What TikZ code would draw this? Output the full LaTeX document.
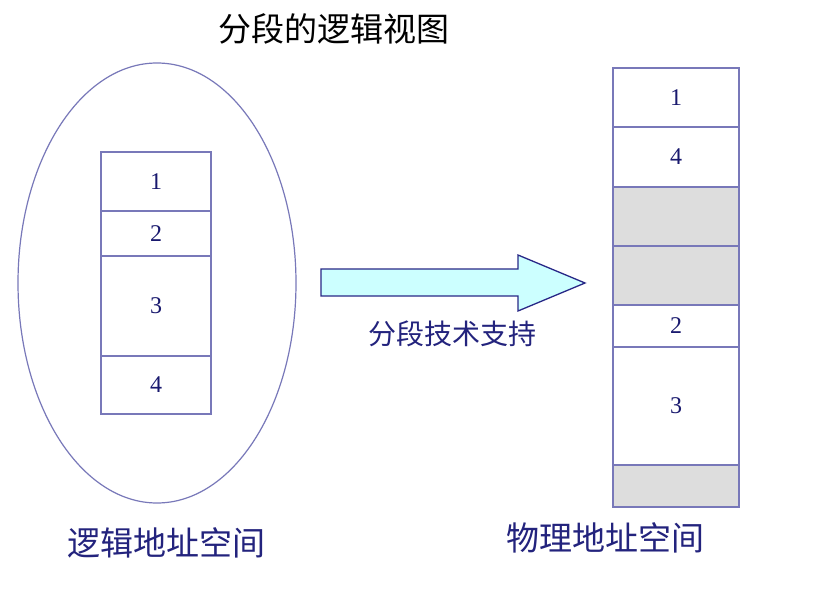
\documentclass[tikz,border=0pt]{standalone}
\usepackage{fontspec}
\setmainfont{Liberation Serif}
\newfontfamily\cjk{Noto Sans CJK SC}
\usetikzlibrary{shapes.geometric}
\definecolor{linecol}{RGB}{120,120,185}
\definecolor{numcol}{RGB}{25,25,110}
\definecolor{labcol}{RGB}{35,35,125}
\definecolor{arrowfill}{RGB}{204,255,255}
\definecolor{arrowline}{RGB}{40,40,135}
\definecolor{grayfill}{RGB}{221,221,221}
\tikzset{
  seg/.style={draw=linecol, line width=1.2pt, inner sep=0pt, text=numcol,
    font=\fontsize{24}{24}\selectfont},
  lseg/.style={seg, minimum width=110pt},
  rseg/.style={seg, minimum width=126pt},
  freeseg/.style={rseg, fill=grayfill},
  cjklabel/.style={font=\cjk\fontsize{33}{33}\selectfont, text=labcol, inner sep=0pt}
}
\begin{document}
\begin{tikzpicture}[x=1pt,y=-1pt]
\useasboundingbox (0,0) rectangle (819,596);
\fill[white] (0,0) rectangle (819,596);
% title
\node[font=\cjk\fontsize{33}{33}\selectfont, text=black, inner sep=0pt] (title) at (334,29) {分段的逻辑视图};
% logical space
\node[draw=linecol, line width=1.2pt, ellipse, minimum width=278pt, minimum height=440pt, inner sep=0pt] (space) at (157,283) {};
\node[lseg, minimum height=59pt] (l1) at (156,181.5) {1};
\node[lseg, minimum height=45pt] (l2) at (156,233.5) {2};
\node[lseg, minimum height=100pt] (l3) at (156,306) {3};
\node[lseg, minimum height=58pt] (l4) at (156,385) {4};
\node[cjklabel] (llab) at (166,543) {逻辑地址空间};
% physical space
\node[rseg, minimum height=59pt] (p1) at (676,97.5) {1};
\node[rseg, minimum height=60pt] (p4) at (676,157) {4};
\node[freeseg, minimum height=59pt] (g1) at (676,216.5) {};
\node[freeseg, minimum height=59pt] (g2) at (676,275.5) {};
\node[rseg, minimum height=42pt] (p2) at (676,326) {2};
\node[rseg, minimum height=118pt] (p3) at (676,406) {3};
\node[freeseg, minimum height=42pt] (g3) at (676,486) {};
\node[cjklabel] (plab) at (605,538) {物理地址空间};
% block arrow
\coordinate (a1) at (321,269);
\coordinate (a2) at (518,269);
\coordinate (a3) at (518,255);
\coordinate (tip) at (585,283);
\coordinate (a5) at (518,311);
\coordinate (a6) at (518,296);
\coordinate (a7) at (321,296);
\draw[fill=arrowfill, draw=arrowline, line width=1.3pt, line join=miter]
  (a1) -- (a2) -- (a3) -- (tip) -- (a5) -- (a6) -- (a7) -- cycle;
\node[font=\cjk\fontsize{28}{28}\selectfont, text=labcol, inner sep=0pt] (alab) at (452,334) {分段技术支持};
\end{tikzpicture}
\end{document}
